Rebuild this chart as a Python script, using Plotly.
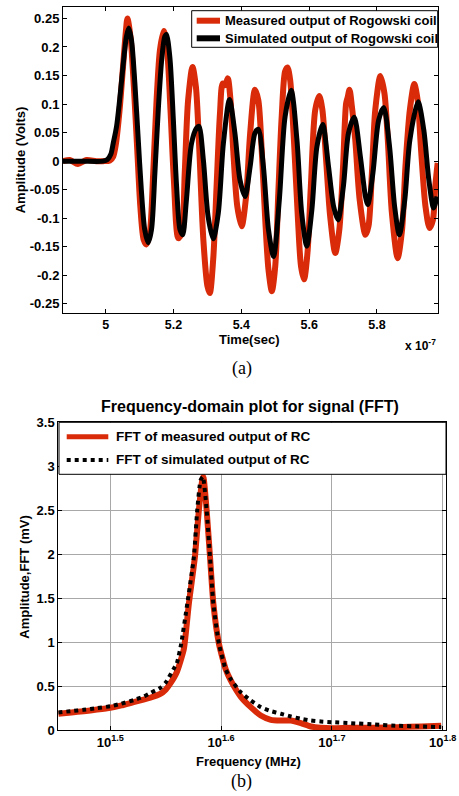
import plotly.graph_objects as go

# ---------------- Top panel (a): time domain ----------------
t_measured = [4.874, 4.894, 4.918, 4.943, 4.972, 4.992, 5.012, 5.022, 5.030, 5.041, 5.051, 5.059, 5.064,
              5.073, 5.083, 5.093, 5.102, 5.112, 5.120, 5.130, 5.140, 5.150, 5.160, 5.171, 5.181, 5.191,
              5.201, 5.214, 5.224, 5.233, 5.243, 5.256, 5.266, 5.276, 5.288, 5.300, 5.307, 5.317, 5.327,
              5.337, 5.345, 5.352, 5.360, 5.368, 5.376, 5.388, 5.401, 5.414, 5.426, 5.440, 5.450, 5.460,
              5.470, 5.480, 5.490, 5.500, 5.509, 5.519, 5.529, 5.536, 5.544, 5.554, 5.566, 5.576, 5.585,
              5.595, 5.605, 5.618, 5.630, 5.639, 5.650, 5.662, 5.677, 5.689, 5.700, 5.709, 5.714, 5.719,
              5.726, 5.736, 5.749, 5.766, 5.775, 5.785, 5.795, 5.810, 5.822, 5.832, 5.844, 5.861, 5.874,
              5.884, 5.897, 5.910, 5.920, 5.930, 5.943, 5.955, 5.965, 5.972, 5.979]
v_measured = [0.0, 0.002, -0.005, 0.002, 0.0, 0.0, 0.001, 0.008, 0.03, 0.09, 0.165, 0.225, 0.25,
              0.218, 0.13, 0.02, -0.079, -0.138, -0.146, -0.126, -0.021, 0.107, 0.195, 0.228, 0.195, 0.09,
              -0.033, -0.135, -0.126, -0.021, 0.107, 0.165, 0.13, 0.02, -0.138, -0.219, -0.231, -0.172, -0.044,
              0.084, 0.136, 0.133, 0.145, 0.107, 0.02, -0.079, -0.114, -0.062, 0.049, 0.125, 0.107, 0.02,
              -0.097, -0.19, -0.228, -0.184, -0.056, 0.078, 0.157, 0.164, 0.142, 0.049, -0.091, -0.184, -0.207,
              -0.161, -0.044, 0.09, 0.114, 0.09, 0.002, -0.097, -0.161, -0.12, -0.009, 0.101, 0.113, 0.125,
              0.096, 0.037, -0.068, -0.129, -0.114, -0.021, 0.09, 0.149, 0.119, 0.037, -0.091, -0.170, -0.12,
              -0.009, 0.09, 0.135, 0.107, 0.02, -0.079, -0.117, -0.103, -0.044, -0.003]

t_simulated = [4.874, 4.93, 4.992, 5.005, 5.015, 5.022, 5.032, 5.041, 5.051, 5.061, 5.068, 5.076, 5.086,
               5.096, 5.105, 5.115, 5.125, 5.135, 5.145, 5.155, 5.165, 5.174, 5.179, 5.189, 5.199, 5.209,
               5.219, 5.227, 5.238, 5.253, 5.268, 5.275, 5.288, 5.302, 5.317, 5.332, 5.347, 5.365, 5.381,
               5.396, 5.411, 5.426, 5.440, 5.450, 5.465, 5.480, 5.495, 5.512, 5.529, 5.547, 5.564, 5.578,
               5.593, 5.608, 5.623, 5.640, 5.657, 5.672, 5.685, 5.701, 5.716, 5.733, 5.751, 5.766, 5.773,
               5.788, 5.805, 5.820, 5.837, 5.852, 5.866, 5.882, 5.897, 5.921, 5.938, 5.953, 5.967, 5.977]
v_simulated = [0, 0, 0, 0.003, 0.012, 0.031, 0.061, 0.107, 0.166, 0.218, 0.233, 0.212, 0.136,
               0.037, -0.050, -0.120, -0.143, -0.120, -0.021, 0.090, 0.177, 0.218, 0.222, 0.183, 0.078, -0.044,
               -0.120, -0.129, -0.068, 0.031, 0.058, 0.061, 0.002, -0.097, -0.136, -0.091, 0.031, 0.108, 0.049,
               -0.033, -0.062, -0.009, 0.049, 0.056, -0.009, -0.120, -0.167, -0.068, 0.078, 0.124, 0.037, -0.091,
               -0.149, -0.085, 0.026, 0.064, -0.009, -0.079, -0.103, -0.044, 0.049, 0.077, 0.008, -0.062, -0.076,
               -0.021, 0.072, 0.094, 0.026, -0.079, -0.129, -0.068, 0.037, 0.104, 0.055, -0.033, -0.082, -0.062]

time_ticks = [5.0, 5.2, 5.4, 5.6, 5.8]
time_tick_labels = ["5", "5.2", "5.4", "5.6", "5.8"]
amp_ticks = [-0.25, -0.2, -0.15, -0.1, -0.05, 0, 0.05, 0.1, 0.15, 0.2, 0.25]
amp_tick_labels = ["-0.25", "-0.2", "-0.15", "-0.1", "-0.05", "0", "0.05", "0.1", "0.15", "0.2", "0.25"]

# ---------------- Bottom panel (b): FFT ----------------
f_measured = [28.38, 29.17, 29.92, 30.76, 31.62, 32.36, 33.19, 33.88, 34.36, 35.08, 35.48, 35.81, 36.31,
              36.84, 37.23, 37.70, 38.01, 38.28, 38.37, 38.63, 38.90, 39.17, 39.63, 40.19, 40.61, 41.46,
              42.34, 43.23, 44.14, 45.07, 46.02, 46.99, 47.97, 48.98, 50.12, 52.14, 54.74, 57.47, 60.33, 62.90]
a_measured = [0.185, 0.20, 0.214, 0.232, 0.253, 0.28, 0.317, 0.345, 0.367, 0.41, 0.46, 0.527, 0.66,
              0.92, 1.44, 1.97, 2.50, 2.845, 2.88, 2.50, 1.97, 1.44, 0.98, 0.69, 0.564, 0.38,
              0.26, 0.165, 0.116, 0.108, 0.108, 0.078, 0.04, 0.025, 0.02, 0.025, 0.025, 0.032, 0.04, 0.048]

f_simulated = [28.38, 29.17, 29.92, 30.76, 31.62, 32.36, 33.19, 33.88, 34.36, 35.08, 35.48, 36.03, 36.31,
               36.64, 37.11, 37.62, 37.88, 38.15, 38.33, 38.63, 38.90, 39.17, 39.63, 40.19, 40.61, 41.46,
               42.34, 43.23, 44.14, 45.07, 46.02, 46.99, 47.97, 48.98, 50.12, 52.14, 54.74, 57.47, 60.33, 62.90]
a_simulated = [0.20, 0.215, 0.23, 0.25, 0.27, 0.30, 0.34, 0.38, 0.42, 0.48, 0.54, 0.686, 0.76,
               0.983, 1.44, 1.97, 2.50, 2.845, 2.88, 2.50, 1.97, 1.44, 0.98, 0.69, 0.58, 0.43,
               0.336, 0.26, 0.215, 0.185, 0.154, 0.128, 0.108, 0.097, 0.089, 0.078, 0.063, 0.048, 0.04, 0.032]

freq_ticks = [10 ** 1.5, 10 ** 1.6, 10 ** 1.7, 10 ** 1.8]
freq_tick_labels = ["10<sup>1.5</sup>", "10<sup>1.6</sup>", "10<sup>1.7</sup>", "10<sup>1.8</sup>"]
fft_ticks = [0, 0.5, 1, 1.5, 2, 2.5, 3, 3.5]
fft_tick_labels = ["0", "0.5", "1", "1.5", "2", "2.5", "3", "3.5"]

RED = "#d92b09"
FONT = "Liberation Sans, Arial, Helvetica, sans-serif"
W, H = 459, 796


def px(x):
    return x / W


def py(y):
    return 1 - y / H


fig = go.Figure()

fig.add_trace(go.Scatter(x=t_measured, y=v_measured, mode="lines", name="Measured output of Rogowski coil",
                         line=dict(color=RED, width=6, shape="spline", smoothing=0.8),
                         xaxis="x", yaxis="y", showlegend=False))
fig.add_trace(go.Scatter(x=t_simulated, y=v_simulated, mode="lines", name="Simulated output of Rogowski coil",
                         line=dict(color="black", width=5, shape="spline", smoothing=0.8),
                         xaxis="x", yaxis="y", showlegend=False))
fig.add_trace(go.Scatter(x=f_measured, y=a_measured, mode="lines", name="FFT of measured output of RC",
                         line=dict(color=RED, width=6, shape="spline", smoothing=0.5),
                         xaxis="x2", yaxis="y2", showlegend=False))
fig.add_trace(go.Scatter(x=f_simulated, y=a_simulated, mode="lines", name="FFT of simulated output of RC",
                         line=dict(color="black", width=4, dash="dot", shape="spline", smoothing=0.5),
                         xaxis="x2", yaxis="y2", showlegend=False))

tickfont = dict(family=FONT, size=13, color="black", weight="bold")
axis_common = dict(showline=True, linecolor="black", linewidth=1, mirror="ticks", ticks="inside",
                   ticklen=4, tickcolor="black", zeroline=False, tickfont=tickfont)

fig.update_layout(
    width=W, height=H,
    margin=dict(l=0, r=0, t=0, b=0, autoexpand=False),
    paper_bgcolor="white", plot_bgcolor="white",
    showlegend=False,
    xaxis=dict(domain=[px(63), px(438)], range=[4.874, 5.98], tickvals=time_ticks, ticktext=time_tick_labels,
               showgrid=False, anchor="y", **{**axis_common, "tickfont": dict(tickfont, size=12.5)}),
    yaxis=dict(domain=[py(313), py(7)], range=[-0.266, 0.270], tickvals=amp_ticks, ticktext=amp_tick_labels,
               showgrid=False, anchor="x", **axis_common),
    xaxis2=dict(domain=[px(58.3), px(446)], type="log", range=[1.453, 1.803], tickvals=freq_ticks,
                ticktext=freq_tick_labels, showgrid=True, gridcolor="#a8a8a8", gridwidth=1, anchor="y2",
                **axis_common),
    yaxis2=dict(domain=[py(730), py(422.3)], range=[0, 3.5], tickvals=fft_ticks, ticktext=fft_tick_labels,
                showgrid=True, gridcolor="#a8a8a8", gridwidth=1, anchor="x2", **axis_common),
)

shapes = []
# legend (a)
shapes.append(dict(type="rect", xref="paper", yref="paper", x0=px(191.7), x1=px(437.7), y0=py(47.3), y1=py(10.7),
                   line=dict(color="black", width=1), fillcolor="white", layer="above"))
shapes.append(dict(type="line", xref="paper", yref="paper", x0=px(196.7), x1=px(220), y0=py(20.7), y1=py(20.7),
                   line=dict(color=RED, width=6), layer="above"))
shapes.append(dict(type="line", xref="paper", yref="paper", x0=px(196.7), x1=px(220), y0=py(38.3), y1=py(38.3),
                   line=dict(color="black", width=6), layer="above"))
# legend (b)
shapes.append(dict(type="rect", xref="paper", yref="paper", x0=px(59), x1=px(446), y0=py(474.3), y1=py(422.3),
                   line=dict(color="black", width=1), fillcolor="white", layer="above"))
shapes.append(dict(type="line", xref="paper", yref="paper", x0=px(66.7), x1=px(108.3), y0=py(436.7), y1=py(436.7),
                   line=dict(color=RED, width=5), layer="above"))
shapes.append(dict(type="line", xref="paper", yref="paper", x0=px(66.7), x1=px(108.3), y0=py(460), y1=py(460),
                   line=dict(color="black", width=4, dash="dot"), layer="above"))
fig.update_layout(shapes=shapes)

bold = lambda s: dict(family=FONT, size=s, color="black", weight="bold")
ann = [
    dict(text="Measured output of Rogowski coil", x=px(222.7), y=py(20.7), xanchor="left", yanchor="middle", font=bold(13)),
    dict(text="Simulated output of Rogowski coil", x=px(222.7), y=py(38.3), xanchor="left", yanchor="middle", font=bold(13)),
    dict(text="Time(sec)", x=px(249), y=py(340), xanchor="center", yanchor="middle", font=bold(13)),
    dict(text="x 10<sup>-7</sup>", x=px(438), y=py(345), xanchor="right", yanchor="middle", font=bold(12)),
    dict(text="Amplitude (Volts)", x=px(20), y=py(160.3), xanchor="center", yanchor="middle", textangle=-90, font=bold(13)),
    dict(text="(a)", x=px(242), y=py(368), xanchor="center", yanchor="middle",
         font=dict(family="Liberation Serif, Times New Roman, serif", size=18, color="black")),
    dict(text="Frequency-domain plot for signal (FFT)", x=px(250.3), y=py(406.7), xanchor="center", yanchor="middle", font=bold(16)),
    dict(text="FFT of measured output of RC", x=px(114), y=py(436.7), xanchor="left", yanchor="middle", font=bold(13.5)),
    dict(text="FFT of simulated output of RC", x=px(114), y=py(460), xanchor="left", yanchor="middle", font=bold(13.5)),
    dict(text="Amplitude,FFT (mV)", x=px(25), y=py(576.7), xanchor="center", yanchor="middle", textangle=-90, font=bold(13)),
    dict(text="Frequency (MHz)", x=px(249), y=py(761.7), xanchor="center", yanchor="middle", font=bold(13)),
    dict(text="(b)", x=px(241.7), y=py(781.7), xanchor="center", yanchor="middle",
         font=dict(family="Liberation Serif, Times New Roman, serif", size=18, color="black")),
]
for a in ann:
    a.update(xref="paper", yref="paper", showarrow=False)
fig.update_layout(annotations=ann)

fig.write_html("out.html", config={"displayModeBar": False},
               post_script="document.body.style.margin='0';document.body.style.overflow='hidden';")
